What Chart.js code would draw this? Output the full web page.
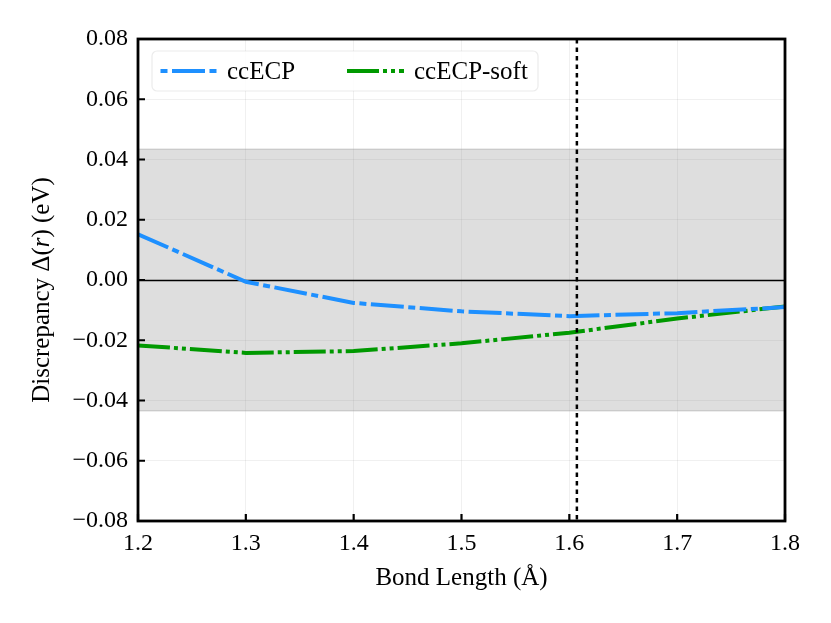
<!DOCTYPE html>
<html>
<head>
<meta charset="utf-8">
<script src="https://cdn.jsdelivr.net/npm/chart.js@4/dist/chart.umd.min.js"></script>
<style>
html,body{margin:0;padding:0;background:#fff;}
#wrap{width:831px;height:623px;}
</style>
</head>
<body>
<div id="wrap"><canvas id="c" width="831" height="623"></canvas></div>
<script>
const bondLength = [1.2, 1.3, 1.4, 1.5, 1.6, 1.7, 1.8];
const ccECP      = [0.0152, -0.0006, -0.0076, -0.0104, -0.0120, -0.0110, -0.0090];
const ccECPsoft  = [-0.0217, -0.0242, -0.0236, -0.0210, -0.0175, -0.0128, -0.0088];
const seriesLabels = ['ccECP', 'ccECP-soft'];
const xTicks = [1.2, 1.3, 1.4, 1.5, 1.6, 1.7, 1.8];
const yTicks = [-0.08, -0.06, -0.04, -0.02, 0.00, 0.02, 0.04, 0.06, 0.08];
const chemAccuracy = 0.0434;
const eqBond = 1.607;

const FONT = 'Liberation Serif, DejaVu Serif, serif';
const fontTick = {family: FONT, size: 24};
const fontTitle = {family: FONT, size: 25};

const decor = {
  id: 'decor',
  beforeDatasetsDraw(chart) {
    const {ctx, chartArea: a, scales: {x, y}} = chart;
    ctx.save();
    const yT = y.getPixelForValue(chemAccuracy), yB = y.getPixelForValue(-chemAccuracy);
    ctx.fillStyle = 'rgba(128,128,128,0.26)';
    ctx.fillRect(a.left, yT, a.right - a.left, yB - yT);
    ctx.strokeStyle = 'rgba(150,150,150,0.35)';
    ctx.lineWidth = 1.5;
    ctx.beginPath();
    ctx.moveTo(a.left, yT); ctx.lineTo(a.right, yT);
    ctx.moveTo(a.left, yB); ctx.lineTo(a.right, yB);
    ctx.stroke();
    const y0 = Math.round(y.getPixelForValue(0)) + 0.5;
    ctx.strokeStyle = '#000';
    ctx.lineWidth = 1.5;
    ctx.beginPath(); ctx.moveTo(a.left, y0); ctx.lineTo(a.right, y0); ctx.stroke();
    ctx.restore();
  },
  afterDatasetsDraw(chart) {
    const {ctx, chartArea: a, scales: {x, y}} = chart;
    ctx.save();
    const xv = x.getPixelForValue(eqBond);
    ctx.strokeStyle = '#000';
    ctx.lineWidth = 2.5;
    ctx.setLineDash([4.5, 4]);
    ctx.beginPath(); ctx.moveTo(xv, a.top); ctx.lineTo(xv, a.bottom); ctx.stroke();
    ctx.setLineDash([]);
    ctx.lineWidth = 2.2;
    ctx.beginPath();
    xTicks.forEach(v => { const px = x.getPixelForValue(v); ctx.moveTo(px, a.bottom); ctx.lineTo(px, a.bottom - 7); });
    yTicks.forEach(v => { const py = y.getPixelForValue(v); ctx.moveTo(a.left, py); ctx.lineTo(a.left + 7, py); });
    ctx.stroke();
    ctx.lineWidth = 2.8;
    ctx.strokeRect(a.left, a.top, a.right - a.left, a.bottom - a.top);
    // legend
    const lx = a.left + 14, ly = a.top + 12, lw = 386, lh = 40;
    ctx.fillStyle = 'rgba(255,255,255,0.85)';
    ctx.strokeStyle = 'rgba(0,0,0,0.08)';
    ctx.lineWidth = 1.2;
    ctx.beginPath();
    if (ctx.roundRect) ctx.roundRect(lx, ly, lw, lh, 5); else ctx.rect(lx, ly, lw, lh);
    ctx.fill(); ctx.stroke();
    const offsets = [8, 195];
    const dashOffsets = [37, 0];
    ctx.font = '25px ' + FONT;
    ctx.textBaseline = 'middle';
    chart.data.datasets.forEach((ds, i) => {
      const sx = lx + offsets[i], sy = ly + lh / 2;
      ctx.strokeStyle = ds.borderColor;
      ctx.lineWidth = ds.borderWidth;
      ctx.setLineDash(ds.borderDash);
      ctx.lineDashOffset = dashOffsets[i];
      ctx.beginPath(); ctx.moveTo(sx, sy); ctx.lineTo(sx + 57, sy); ctx.stroke();
      ctx.setLineDash([]);
      ctx.lineDashOffset = 0;
      ctx.fillStyle = '#000';
      ctx.fillText(ds.label, sx + 67, sy + 1);
    });
    // y axis title with italic r
    const parts = [
      {t: 'Discrepancy \u0394(', f: '25px ' + FONT},
      {t: 'r', f: 'italic 25px ' + FONT},
      {t: ') (eV)', f: '25px ' + FONT}
    ];
    let total = 0;
    parts.forEach(p => { ctx.font = p.f; p.w = ctx.measureText(p.t).width; total += p.w; });
    ctx.translate(42, (a.top + a.bottom) / 2 + 10);
    ctx.rotate(-Math.PI / 2);
    let cx = -total / 2;
    ctx.fillStyle = '#000';
    ctx.textAlign = 'left';
    ctx.textBaseline = 'middle';
    parts.forEach(p => { ctx.font = p.f; ctx.fillText(p.t, cx, 0); cx += p.w; });
    ctx.restore();
  }
};

new Chart(document.getElementById('c'), {
  type: 'line',
  data: {
    datasets: [
      {
        label: seriesLabels[0],
        data: bondLength.map((b, i) => ({x: b, y: ccECP[i]})),
        borderColor: '#1e90ff',
        borderWidth: 4,
        borderDash: [33, 4.5, 7, 4.5],
        borderCapStyle: 'butt',
        pointRadius: 0,
        fill: false,
        tension: 0
      },
      {
        label: seriesLabels[1],
        data: bondLength.map((b, i) => ({x: b, y: ccECPsoft[i]})),
        borderColor: '#009900',
        borderWidth: 4,
        borderDash: [32, 4, 4, 4, 4, 4],
        borderCapStyle: 'butt',
        pointRadius: 0,
        fill: false,
        tension: 0
      }
    ]
  },
  options: {
    responsive: false,
    animation: false,
    devicePixelRatio: 1,
    layout: {padding: {top: 39, right: 46, left: 0, bottom: 0}},
    plugins: {legend: {display: false}, tooltip: {enabled: false}},
    scales: {
      x: {
        type: 'linear',
        min: 1.2, max: 1.8,
        afterBuildTicks: s => { s.ticks = xTicks.map(v => ({value: v})); },
        afterFit: s => { s.height = 102; },
        ticks: {callback: v => Number(v).toFixed(1), font: fontTick, color: '#000', padding: 8, maxRotation: 0},
        grid: {color: 'rgba(0,0,0,0.06)', drawTicks: false},
        border: {display: false},
        title: {display: true, text: 'Bond Length (\u00c5)', font: fontTitle, color: '#000', padding: {top: 0, bottom: 30}}
      },
      y: {
        type: 'linear',
        min: -0.08, max: 0.08,
        afterBuildTicks: s => { s.ticks = yTicks.map(v => ({value: v})); },
        afterFit: s => { s.width = 138; },
        ticks: {callback: v => { const n = Number(v); const s = Math.abs(n).toFixed(2); return (n < -1e-9 ? '\u2212' : '') + s; }, font: fontTick, color: '#000', padding: 10},
        grid: {color: 'rgba(0,0,0,0.06)', drawTicks: false},
        border: {display: false}
      }
    }
  },
  plugins: [decor]
});
</script>
</body>
</html>
